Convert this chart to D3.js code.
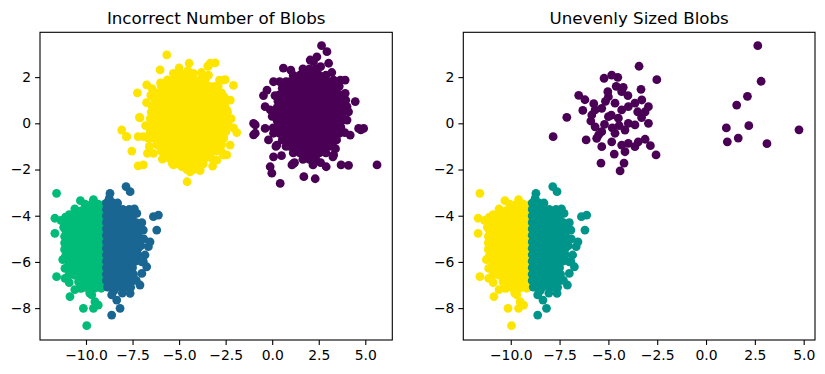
<!DOCTYPE html>
<html>
<head>
<meta charset="utf-8">
<script src="https://cdn.jsdelivr.net/npm/d3@7"></script>
<style>
  body { margin: 0; background: #fff; }
  svg { display: block; }
</style>
</head>
<body>
<svg id="chart" width="825" height="374"></svg>
<script>
// ---- data (data units) ----
let titles = ["Incorrect Number of Blobs", "Unevenly Sized Blobs"];
let xTicks = [-10, -7.5, -5, -2.5, 0, 2.5, 5];
let yTicks = [-8, -6, -4, -2, 0, 2];

// south-west blob, west half (green left / yellow right); rows are [y, [x...]]
let blobSWwestRows = [
    [-3.50, [-10.05, -9.7, -9.35, -9.0]],
    [-3.78, [-10.58, -10.23, -9.88, -9.53, -9.18, -8.95]],
    [-4.06, [-11.1, -10.75, -10.4, -10.05, -9.7, -9.35, -9.0]],
    [-4.34, [-11.1, -10.93, -10.58, -10.23, -9.88, -9.53, -9.18, -8.95]],
    [-4.62, [-11.1, -10.75, -10.4, -10.05, -9.7, -9.35, -9.0]],
    [-4.90, [-11.15, -10.93, -10.58, -10.23, -9.88, -9.53, -9.18, -8.95]],
    [-5.18, [-11.15, -10.75, -10.4, -10.05, -9.7, -9.35, -9.0]],
    [-5.46, [-11.15, -10.93, -10.58, -10.23, -9.88, -9.53, -9.18, -8.95]],
    [-5.74, [-11.1, -10.75, -10.4, -10.05, -9.7, -9.35, -9.0]],
    [-6.02, [-10.93, -10.58, -10.23, -9.88, -9.53, -9.18, -8.95]],
    [-6.30, [-10.75, -10.4, -10.05, -9.7, -9.35, -9.0]],
    [-6.58, [-10.93, -10.58, -10.23, -9.88, -9.53, -9.18, -8.95]],
    [-6.86, [-10.4, -10.05, -9.7, -9.35, -9.0]],
    [-7.14, [-10.23, -9.88, -9.53, -9.18]]
];
let blobSWwestOut = [
    [-11.58, -3.03], [-11.67, -4.11], [-11.67, -4.76], [-11.58, -6.64], [-11.13, -6.71],
    [-11.13, -6.28], [-10.86, -7.5], [-10.32, -7.14], [-10.14, -8.01], [-9.96, -8.76],
    [-9.69, -7.43], [-9.52, -7.72], [-9.34, -7.87], [-9.6, -8.01], [-11.35, -4.2],
    [-10.9, -3.95], [-10.6, -3.7], [-11.25, -5.9], [-11.2, -4.5], [-10.9, -6.9],
    [-10.6, -7.2], [-9.8, -7.35], [-10.3, -3.35], [-9.6, -3.3]
];

// south-west blob, east half (blue left / teal right)
let blobSWeastRows = [
    [-3.45, [-8.9, -8.55]],
    [-3.73, [-8.9, -8.73, -8.38, -8.03, -7.68]],
    [-4.01, [-8.9, -8.55, -8.2, -7.85, -7.5]],
    [-4.29, [-8.9, -8.73, -8.38, -8.03, -7.68, -7.33]],
    [-4.57, [-8.9, -8.55, -8.2, -7.85, -7.5, -7.15]],
    [-4.85, [-8.9, -8.73, -8.38, -8.03, -7.68, -7.33, -7.2]],
    [-5.13, [-8.9, -8.55, -8.2, -7.85, -7.5, -7.2]],
    [-5.41, [-8.9, -8.73, -8.38, -8.03, -7.68, -7.33, -7.2]],
    [-5.69, [-8.9, -8.55, -8.2, -7.85, -7.5, -7.2]],
    [-5.97, [-8.9, -8.73, -8.38, -8.03, -7.68, -7.33]],
    [-6.25, [-8.9, -8.55, -8.2, -7.85, -7.5]],
    [-6.53, [-8.9, -8.73, -8.38, -8.03, -7.68, -7.45]],
    [-6.81, [-8.9, -8.55, -8.2, -7.85, -7.5]],
    [-7.09, [-8.85, -8.73, -8.38, -8.03, -7.75]]
];
let blobSWeastOut = [
    [-8.71, -3.03], [-7.85, -2.74], [-7.63, -2.96], [-6.38, -4.04], [-6.11, -3.97],
    [-6.2, -4.62], [-6.56, -5.13], [-6.65, -5.34], [-6.83, -5.7], [-6.92, -5.99],
    [-6.74, -6.21], [-7.1, -7.0], [-7.63, -7.36], [-8.62, -8.3], [-8.17, -8.01],
    [-8.35, -7.65], [-8.62, -7.43], [-7.27, -3.9], [-6.92, -4.62], [-7.0, -4.3],
    [-7.6, -7.1], [-7.05, -5.3], [-7.0, -6.0], [-8.75, -3.25], [-8.3, -3.45],
    [-7.4, -3.7], [-6.9, -5.0], [-7.0, -6.5], [-7.3, -6.8], [-8.05, -7.35], [-8.5, -7.25]
];

// north-west blob: the 100-point sample shown on the right, plus the rest
let blobNWsample = [
    [-3.43, 2.47], [-2.52, 1.89], [-5.22, 1.95], [-4.83, 2.09], [-4.52, 1.99], [-4.24, 1.56],
    [-4.32, 1.37], [-3.33, 1.47], [-5.03, 1.37], [-5.0, 1.15], [-6.52, 1.21], [-6.2, 1.02],
    [-7.13, 0.26], [-7.83, -0.58], [-6.31, 0.56], [-5.85, 0.36], [-5.68, 0.58], [-5.34, 0.65],
    [-4.66, 0.87], [-4.32, 0.58], [-3.98, 0.72], [-3.64, 0.87], [-3.29, 1.01], [-2.95, 0.72],
    [-3.12, 0.5], [-5.0, 0.29], [-4.49, 0.22], [-3.98, 0.0], [-3.64, -0.07], [-2.95, 0.0],
    [-5.68, -0.15], [-5.34, -0.36], [-4.66, -0.43], [-4.15, -0.29], [-6.14, -0.72], [-5.6, -0.65],
    [-5.34, -1.01], [-4.83, -0.8], [-4.32, -0.94], [-3.98, -0.87], [-3.47, -0.8], [-3.12, -0.69],
    [-2.85, -0.97], [-4.15, -1.23], [-3.64, -1.01], [-2.56, -1.37], [-4.7, -1.33], [-5.38, -1.72],
    [-4.2, -1.72], [-4.4, -2.06], [-5.9, 0.1], [-5.2, -0.05], [-4.85, 0.35], [-4.45, -0.1],
    [-4.8, -0.2], [-5.5, -0.5], [-3.3, 0.25], [-3.5, 0.5], [-5.15, 0.95], [-5.75, 0.85],
    [-4.0, 1.2], [-4.6, 1.6]
];
let blobNWrows = [
    [2.16, [-4.9, -4.58, -4.23]],
    [1.88, [-5.63, -5.28, -4.93, -4.58, -4.23, -3.88, -3.6]],
    [1.60, [-5.95, -5.8, -5.45, -5.1, -4.75, -4.4, -4.05, -3.7, -3.35, -3.1]],
    [1.32, [-6.2, -5.98, -5.63, -5.28, -4.93, -4.58, -4.23, -3.88, -3.53, -3.18, -2.83, -2.72]],
    [1.04, [-6.3, -6.15, -5.8, -5.45, -5.1, -4.75, -4.4, -4.05, -3.7, -3.35, -3.0, -2.65, -2.54]],
    [0.76, [-6.47, -6.33, -5.98, -5.63, -5.28, -4.93, -4.58, -4.23, -3.88, -3.53, -3.18, -2.83, -2.55]],
    [0.48, [-6.5, -6.15, -5.8, -5.45, -5.1, -4.75, -4.4, -4.05, -3.7, -3.35, -3.0, -2.65, -2.4]],
    [0.20, [-6.55, -6.33, -5.98, -5.63, -5.28, -4.93, -4.58, -4.23, -3.88, -3.53, -3.18, -2.83, -2.48, -2.35]],
    [-0.08, [-6.45, -6.15, -5.8, -5.45, -5.1, -4.75, -4.4, -4.05, -3.7, -3.35, -3.0, -2.65, -2.37]],
    [-0.36, [-6.55, -6.33, -5.98, -5.63, -5.28, -4.93, -4.58, -4.23, -3.88, -3.53, -3.18, -2.83, -2.48]],
    [-0.64, [-6.36, -6.15, -5.8, -5.45, -5.1, -4.75, -4.4, -4.05, -3.7, -3.35, -3.0, -2.65, -2.6]],
    [-0.92, [-6.2, -5.98, -5.63, -5.28, -4.93, -4.58, -4.23, -3.88, -3.53, -3.18, -2.83, -2.72]],
    [-1.20, [-5.95, -5.8, -5.45, -5.1, -4.75, -4.4, -4.05, -3.7, -3.35, -3.0]],
    [-1.48, [-5.63, -5.28, -4.93, -4.58, -4.23, -3.88, -3.53, -3.3]],
    [-1.76, [-5.1, -4.75, -4.4, -4.05, -3.7]],
    [-2.00, [-4.58, -4.23, -3.88]]
];
let blobNWout = [
    [-5.66, 2.96], [-6.02, 2.31], [-5.31, 2.16], [-4.46, 2.6], [-4.53, 2.28], [-3.46, 2.48],
    [-3.06, 2.62], [-3.33, 2.6], [-3.42, 2.09], [-2.83, 1.87], [-2.62, 1.87], [-2.08, 1.64],
    [-2.58, 1.15], [-7.24, 1.32], [-6.74, 1.66], [-7.1, 0.24], [-6.47, 1.2], [-8.08, -0.29],
    [-7.81, -0.58], [-7.54, -1.2], [-7.2, -1.84], [-6.7, -1.3], [-7.2, -0.58], [-6.65, -0.65],
    [-6.92, -0.58], [-4.57, -2.53], [-4.85, -1.88], [-4.41, -2.1], [-3.87, -2.05], [-2.97, -1.59],
    [-2.44, -1.37], [-2.62, -1.37], [-3.15, -1.59], [-2.26, -0.94], [-1.9, -0.4], [-2.08, -0.2],
    [-2.44, 0.58], [-6.29, 0.58], [-6.02, -1.01], [-6.38, -1.3], [-6.92, -1.8],
    [-6.75, 0.9], [-6.8, -0.1], [-6.6, -1.0], [-5.9, -1.55], [-5.3, -1.8], [-3.2, -1.85],
    [-2.75, -1.2], [-2.2, 0.2], [-2.25, 1.0], [-2.9, 1.6], [-3.8, 2.2], [-5.0, 2.4],
    [-6.0, 1.75], [-6.45, 1.5]
];

// north-east blob: the 10-point sample shown on the right, plus the rest
let blobNEsample = [
    [2.65, 3.36], [2.82, 1.82], [2.12, 1.17], [1.57, 0.79], [4.76, -0.28],
    [1.04, -0.2], [2.19, -0.1], [1.65, -0.64], [1.09, -0.8], [3.12, -0.88]
];
let blobNErows = [
    [2.36, [1.65, 2.0, 2.35]],
    [2.08, [1.13, 1.48, 1.83, 2.18, 2.53, 2.88]],
    [1.80, [0.74, 0.95, 1.3, 1.65, 2.0, 2.35, 2.7, 3.05, 3.26]],
    [1.52, [0.54, 0.78, 1.13, 1.48, 1.83, 2.18, 2.53, 2.88, 3.23, 3.46]],
    [1.24, [0.4, 0.6, 0.95, 1.3, 1.65, 2.0, 2.35, 2.7, 3.05, 3.4, 3.6]],
    [0.96, [0.31, 0.43, 0.78, 1.13, 1.48, 1.83, 2.18, 2.53, 2.88, 3.23, 3.58, 3.69]],
    [0.68, [0.26, 0.6, 0.95, 1.3, 1.65, 2.0, 2.35, 2.7, 3.05, 3.4, 3.74]],
    [0.40, [0.24, 0.43, 0.78, 1.13, 1.48, 1.83, 2.18, 2.53, 2.88, 3.23, 3.58, 3.76]],
    [0.12, [0.26, 0.6, 0.95, 1.3, 1.65, 2.0, 2.35, 2.7, 3.05, 3.4, 3.74]],
    [-0.16, [0.31, 0.43, 0.78, 1.13, 1.48, 1.83, 2.18, 2.53, 2.88, 3.23, 3.58, 3.69]],
    [-0.44, [0.4, 0.6, 0.95, 1.3, 1.65, 2.0, 2.35, 2.7, 3.05, 3.4, 3.6]],
    [-0.72, [0.54, 0.78, 1.13, 1.48, 1.83, 2.18, 2.53, 2.88, 3.23, 3.46]],
    [-1.00, [0.74, 0.95, 1.3, 1.65, 2.0, 2.35, 2.7, 3.05, 3.26]],
    [-1.28, [1.13, 1.48, 1.83, 2.18, 2.53, 2.88]],
    [-1.56, [1.65, 2.0, 2.35]]
];
let blobNEout = [
    [2.94, 3.1], [2.4, 2.88], [2.22, 2.67], [3.03, 2.6], [2.04, 2.74], [0.6, 2.39],
    [0.07, 1.8], [-0.28, 1.44], [-0.47, 1.2], [-0.38, 0.72], [-0.1, 0.58], [-1.0, 0.0],
    [-0.91, -0.07], [-1.0, -0.5], [-0.91, -0.43], [-0.38, -0.22], [0.07, -0.43], [-0.2, -0.72],
    [0.25, -0.94], [0.07, -1.45], [-0.11, -1.88], [-0.02, -2.16], [0.43, -2.6], [1.06, -1.8],
    [1.15, -1.73], [1.7, -2.31], [2.31, -2.4], [2.19, -1.8], [2.9, -1.88], [3.3, -1.37],
    [3.26, -1.45], [3.7, -1.8], [4.1, -1.82], [5.63, -1.8], [4.19, -0.51], [4.64, -0.22],
    [4.91, -0.22], [4.46, 0.94], [4.02, 0.14], [3.66, 1.87], [3.92, 1.87], [3.3, 1.87],
    [3.92, 1.3], [4.02, 0.72], [0.0, 0.3], [0.05, -0.2], [0.2, -1.0], [0.5, -1.4],
    [1.2, -1.7], [2.6, -1.7], [3.4, -1.1], [3.9, -0.4], [4.1, 0.5], [3.95, 1.0],
    [3.6, 1.6], [3.2, 2.2], [2.6, 2.45], [1.0, 2.3], [0.4, 1.8], [0.15, 1.2]
];

let colors = {
    purple: "#4a0055",
    blue: "#196692",
    green: "#00bc78",
    yellow: "#fee500",
    teal: "#00958b"
};

// flatten [y, [x...]] rows into [x, y] points
function rowsToPoints(rows) {
    return rows.flatMap(function(r) {
        return r[1].map(function(x) { return [x, r[0]]; });
    });
}

let blobSWwest = rowsToPoints(blobSWwestRows).concat(blobSWwestOut);
let blobSWeast = rowsToPoints(blobSWeastRows).concat(blobSWeastOut);
let blobNW = rowsToPoints(blobNWrows).concat(blobNWout, blobNWsample);
let blobNE = rowsToPoints(blobNErows).concat(blobNEout, blobNEsample);

let plotTop = 32.3, plotBottom = 340;
let yDomain = [-9.38, 3.94];
let fontSize = 13.9;
let tickLen = 4.9;

let panels = [
    {
        title: titles[0], left: 40, right: 392.3, xDomain: [-12.47, 6.45],
        layers: [[blobNE, colors.purple], [blobNW, colors.yellow], [blobSWwest, colors.green], [blobSWeast, colors.blue]]
    },
    {
        title: titles[1], left: 463.3, right: 815, xDomain: [-12.43, 5.58],
        layers: [[blobNWsample, colors.purple], [blobNEsample, colors.purple], [blobSWwest, colors.yellow], [blobSWeast, colors.teal]]
    }
];

let svg = d3.select("#chart");
let fmtX = d3.format(".1f");

panels.forEach(function(p, i) {
    let g = svg.append("g");

    let xScale = d3.scaleLinear().domain(p.xDomain).range([p.left, p.right]);
    let yScale = d3.scaleLinear().domain(yDomain).range([plotBottom, plotTop]);

    g.append("clipPath").attr("id", "clip" + i)
        .append("rect")
        .attr("x", p.left).attr("y", plotTop)
        .attr("width", p.right - p.left).attr("height", plotBottom - plotTop);

    let plot = g.append("g").attr("clip-path", "url(#clip" + i + ")");

    // draw each blob
    p.layers.forEach(function(layer) {
        plot.append("g").selectAll("circle")
            .data(layer[0])
            .enter()
            .append("circle")
            .attr("cx", function(d) { return xScale(d[0]); })
            .attr("cy", function(d) { return yScale(d[1]); })
            .attr("r", 4.4)
            .attr("fill", layer[1]);
    });

    // x axis
    let xAxis = g.append("g")
        .attr("transform", "translate(0," + plotBottom + ")")
        .call(d3.axisBottom(xScale).tickValues(xTicks).tickFormat(fmtX)
            .tickSize(tickLen).tickPadding(4.9));
    // y axis
    let yAxis = g.append("g")
        .attr("transform", "translate(" + p.left + ",0)")
        .call(d3.axisLeft(yScale).tickValues(yTicks).tickFormat(d3.format("d"))
            .tickSize(tickLen).tickPadding(4.0));

    [xAxis, yAxis].forEach(function(ax) {
        ax.select(".domain").remove();
        ax.selectAll("line").attr("stroke", "#000").attr("stroke-width", 1.1);
        ax.selectAll("text")
            .attr("fill", "#000")
            .style("font-family", "'DejaVu Sans', sans-serif")
            .style("font-size", fontSize + "px");
    });

    // frame
    g.append("rect")
        .attr("x", p.left).attr("y", plotTop)
        .attr("width", p.right - p.left).attr("height", plotBottom - plotTop)
        .attr("fill", "none")
        .attr("stroke", "#000")
        .attr("stroke-width", 1.1);

    // title
    g.append("text")
        .attr("x", (p.left + p.right) / 2)
        .attr("y", plotTop - 8.3)
        .attr("text-anchor", "middle")
        .style("font-family", "'DejaVu Sans', sans-serif")
        .style("font-size", "16.7px")
        .attr("fill", "#000")
        .text(p.title);
});
</script>
</body>
</html>
